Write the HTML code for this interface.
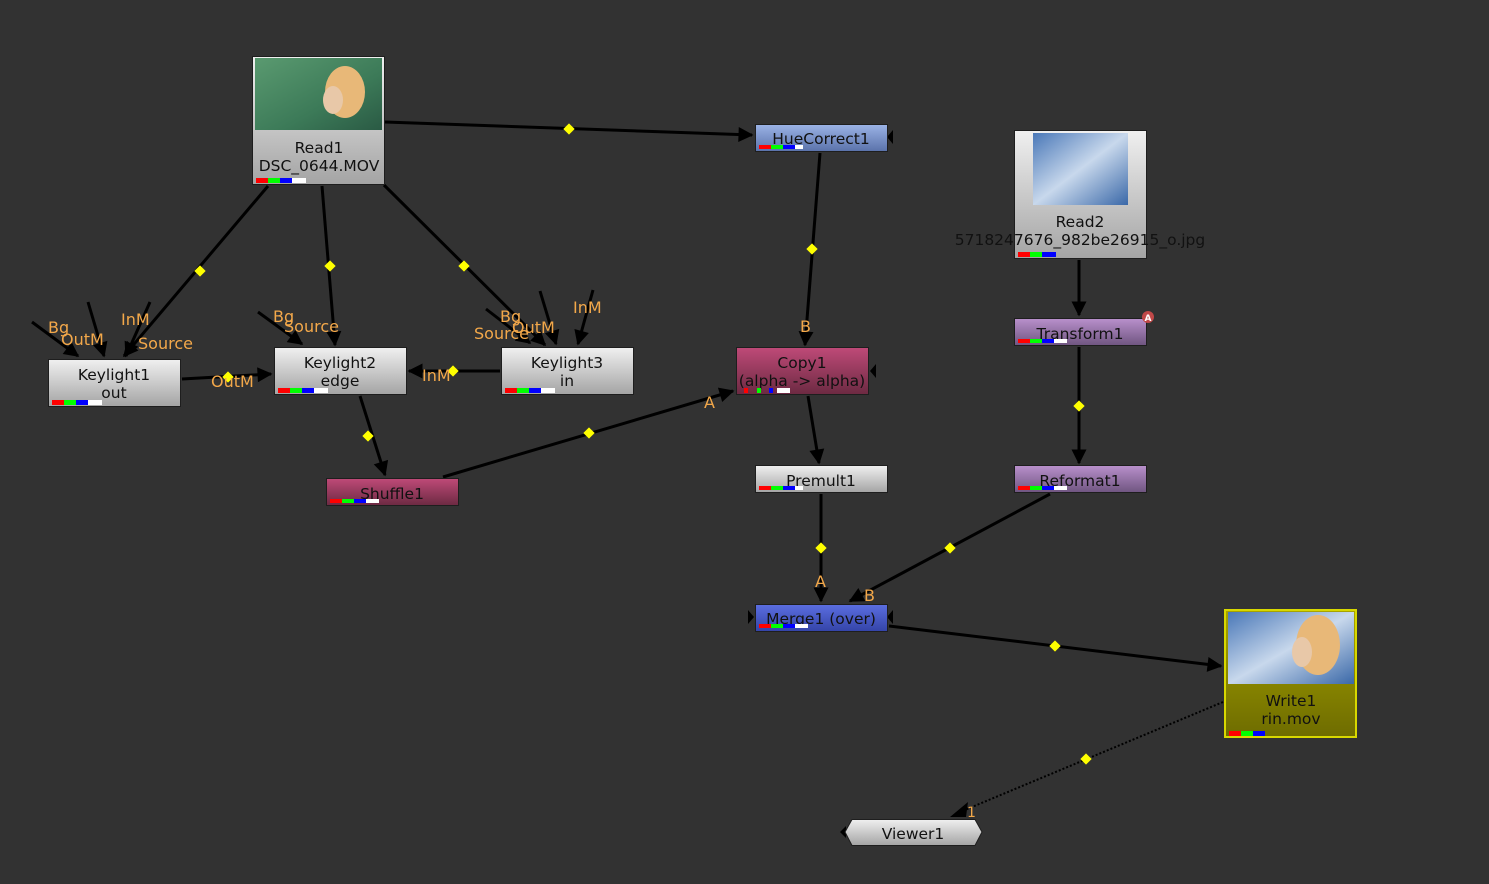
<!DOCTYPE html>
<html><head><meta charset="utf-8"><style>
html,body{margin:0;padding:0;background:#323232;}
svg{display:block;font-family:"DejaVu Sans","Liberation Sans",sans-serif;}
.t{font-size:15.5px;fill:#111;text-anchor:middle;}
.l{font-size:16px;fill:#f3a84a;}
.e{stroke:#000;stroke-width:3;fill:none;}
</style></head><body>
<svg width="1489" height="884" viewBox="0 0 1489 884" xmlns="http://www.w3.org/2000/svg">
<defs>
<marker id="A" viewBox="0 0 10 10" refX="9" refY="5" markerWidth="20" markerHeight="15" orient="auto" markerUnits="userSpaceOnUse"><path d="M0,0L10,5L0,10z" fill="#000"/></marker>
<linearGradient id="gray" x1="0" y1="0" x2="0" y2="1"><stop offset="0" stop-color="#f0f0f0"/><stop offset="1" stop-color="#a4a4a4"/></linearGradient>
<linearGradient id="blue" x1="0" y1="0" x2="0" y2="1"><stop offset="0" stop-color="#9bb3e6"/><stop offset="1" stop-color="#5a72aa"/></linearGradient>
<linearGradient id="mblue" x1="0" y1="0" x2="0" y2="1"><stop offset="0" stop-color="#5b6ee0"/><stop offset="1" stop-color="#3444a8"/></linearGradient>
<linearGradient id="pink" x1="0" y1="0" x2="0" y2="1"><stop offset="0" stop-color="#bf4a78"/><stop offset="1" stop-color="#6c2a42"/></linearGradient>
<linearGradient id="purp" x1="0" y1="0" x2="0" y2="1"><stop offset="0" stop-color="#b990cc"/><stop offset="1" stop-color="#6f5580"/></linearGradient>
<linearGradient id="yel" x1="0" y1="0" x2="0" y2="1"><stop offset="0" stop-color="#a8a400"/><stop offset="1" stop-color="#6e6c00"/></linearGradient>
<linearGradient id="green" x1="0" y1="0" x2="1" y2="1"><stop offset="0" stop-color="#5a9a70"/><stop offset="0.6" stop-color="#3c7a58"/><stop offset="1" stop-color="#2a5a44"/></linearGradient>
<linearGradient id="sky" x1="0" y1="0" x2="1" y2="1"><stop offset="0" stop-color="#4a78b8"/><stop offset="0.5" stop-color="#c8d8ec"/><stop offset="1" stop-color="#3a68a8"/></linearGradient>
</defs>

<g class="e">
<line x1="385" y1="122" x2="752" y2="135" marker-end="url(#A)"/>
<line x1="268" y1="186" x2="124" y2="356" marker-end="url(#A)"/>
<line x1="322" y1="186" x2="335" y2="345" marker-end="url(#A)"/>
<line x1="384" y1="185" x2="545" y2="345" marker-end="url(#A)"/>
<line x1="32" y1="322" x2="78" y2="356" marker-end="url(#A)"/>
<line x1="88" y1="302" x2="104" y2="356" marker-end="url(#A)"/>
<line x1="150" y1="302" x2="126" y2="356" marker-end="url(#A)"/>
<line x1="258" y1="312" x2="302" y2="344" marker-end="url(#A)"/>
<line x1="486" y1="309" x2="530" y2="343" marker-end="url(#A)"/>
<line x1="540" y1="291" x2="556" y2="344" marker-end="url(#A)"/>
<line x1="593" y1="290" x2="578" y2="344" marker-end="url(#A)"/>
<line x1="182" y1="379" x2="271" y2="374" marker-end="url(#A)"/>
<line x1="500" y1="371" x2="409" y2="371" marker-end="url(#A)"/>
<line x1="360" y1="396" x2="385" y2="475" marker-end="url(#A)"/>
<line x1="443" y1="477" x2="733" y2="391" marker-end="url(#A)"/>
<line x1="820" y1="153" x2="805" y2="345" marker-end="url(#A)"/>
<line x1="808" y1="396" x2="819" y2="463" marker-end="url(#A)"/>
<line x1="821" y1="494" x2="821" y2="601" marker-end="url(#A)"/>
<line x1="1079" y1="260" x2="1079" y2="315" marker-end="url(#A)"/>
<line x1="1079" y1="347" x2="1079" y2="463" marker-end="url(#A)"/>
<line x1="1050" y1="494" x2="850" y2="601" marker-end="url(#A)"/>
<line x1="889" y1="626" x2="1221" y2="666" marker-end="url(#A)"/>
<line x1="1223" y1="702" x2="960" y2="812" stroke-dasharray="2 2" stroke-width="2"/>
</g>
<path d="M950,817 L968,802 L966,817z" fill="#000"/>
<path d="M748,610 L754,617 L748,624z M893,610 L887,617 L893,624z M893,130 L887,137 L893,144z M876,364 L870,371 L876,378z M846,826 L840,832 L846,838z" fill="#000"/>

<g fill="#ffff00">
<g transform="translate(569,129) rotate(45)"><rect x="-4" y="-4" width="8" height="8"/></g>
<g transform="translate(200,271) rotate(45)"><rect x="-4" y="-4" width="8" height="8"/></g>
<g transform="translate(330,266) rotate(45)"><rect x="-4" y="-4" width="8" height="8"/></g>
<g transform="translate(464,266) rotate(45)"><rect x="-4" y="-4" width="8" height="8"/></g>
<g transform="translate(812,249) rotate(45)"><rect x="-4" y="-4" width="8" height="8"/></g>
<g transform="translate(1079,406) rotate(45)"><rect x="-4" y="-4" width="8" height="8"/></g>
<g transform="translate(228,377) rotate(45)"><rect x="-4" y="-4" width="8" height="8"/></g>
<g transform="translate(453,371) rotate(45)"><rect x="-4" y="-4" width="8" height="8"/></g>
<g transform="translate(368,436) rotate(45)"><rect x="-4" y="-4" width="8" height="8"/></g>
<g transform="translate(589,433) rotate(45)"><rect x="-4" y="-4" width="8" height="8"/></g>
<g transform="translate(821,548) rotate(45)"><rect x="-4" y="-4" width="8" height="8"/></g>
<g transform="translate(950,548) rotate(45)"><rect x="-4" y="-4" width="8" height="8"/></g>
<g transform="translate(1055,646) rotate(45)"><rect x="-4" y="-4" width="8" height="8"/></g>
<g transform="translate(1086,759) rotate(45)"><rect x="-4" y="-4" width="8" height="8"/></g>
</g>

<g class="l">
<text x="48" y="333">Bg</text><text x="61" y="345">OutM</text><text x="121" y="325">InM</text><text x="138" y="349">Source</text>
<text x="273" y="322">Bg</text><text x="284" y="332">Source</text>
<text x="500" y="322">Bg</text><text x="512" y="333">OutM</text><text x="474" y="339">Source</text><text x="573" y="313">InM</text>
<text x="211" y="387">OutM</text><text x="422" y="381">InM</text>
<text x="704" y="408">A</text><text x="800" y="332">B</text>
<text x="815" y="587">A</text><text x="864" y="601">B</text>
<text x="967" y="817" font-size="14">1</text>
</g>

<rect x="252.5" y="56.5" width="132" height="128" fill="url(#gray)" stroke="#1e1e1e"/>
<rect x="255" y="58" width="127" height="72" fill="url(#green)"/>
<ellipse cx="345" cy="92" rx="20" ry="26" fill="#e8b878"/>
<ellipse cx="333" cy="100" rx="10" ry="14" fill="#e8c8a8"/>
<text class="t" x="319" y="153">Read1</text><text class="t" x="319" y="171">DSC_0644.MOV</text>
<rect x="256" y="178" width="12" height="5" fill="#f00"/><rect x="268" y="178" width="12" height="5" fill="#0f0"/><rect x="280" y="178" width="12" height="5" fill="#00f"/><rect x="292" y="178" width="14" height="5" fill="#fff"/>

<rect x="755.5" y="124.5" width="132" height="27" fill="url(#blue)" stroke="#1e1e1e"/>
<text class="t" x="821" y="144">HueCorrect1</text>
<rect x="759" y="145" width="12" height="4" fill="#f00"/><rect x="771" y="145" width="12" height="4" fill="#0f0"/><rect x="783" y="145" width="12" height="4" fill="#00f"/><rect x="795" y="145" width="8" height="4" fill="#fff"/>

<rect x="1014.5" y="130.5" width="132" height="128" fill="url(#gray)" stroke="#1e1e1e"/>
<rect x="1033" y="133" width="95" height="72" fill="url(#sky)"/>
<text class="t" x="1080" y="227">Read2</text><text class="t" x="1080" y="245">5718247676_982be26915_o.jpg</text>
<rect x="1018" y="252" width="12" height="5" fill="#f00"/><rect x="1030" y="252" width="12" height="5" fill="#0f0"/><rect x="1042" y="252" width="14" height="5" fill="#00f"/>

<rect x="48.5" y="359.5" width="132" height="47" fill="url(#gray)" stroke="#1e1e1e"/>
<text class="t" x="114" y="380">Keylight1</text><text class="t" x="114" y="398">out</text>
<rect x="52" y="400" width="12" height="5" fill="#f00"/><rect x="64" y="400" width="12" height="5" fill="#0f0"/><rect x="76" y="400" width="12" height="5" fill="#00f"/><rect x="88" y="400" width="14" height="5" fill="#fff"/>

<rect x="274.5" y="347.5" width="132" height="47" fill="url(#gray)" stroke="#1e1e1e"/>
<text class="t" x="340" y="368">Keylight2</text><text class="t" x="340" y="386">edge</text>
<rect x="278" y="388" width="12" height="5" fill="#f00"/><rect x="290" y="388" width="12" height="5" fill="#0f0"/><rect x="302" y="388" width="12" height="5" fill="#00f"/><rect x="314" y="388" width="14" height="5" fill="#fff"/>

<rect x="501.5" y="347.5" width="132" height="47" fill="url(#gray)" stroke="#1e1e1e"/>
<text class="t" x="567" y="368">Keylight3</text><text class="t" x="567" y="386">in</text>
<rect x="505" y="388" width="12" height="5" fill="#f00"/><rect x="517" y="388" width="12" height="5" fill="#0f0"/><rect x="529" y="388" width="12" height="5" fill="#00f"/><rect x="541" y="388" width="14" height="5" fill="#fff"/>

<rect x="736.5" y="347.5" width="132" height="47" fill="url(#pink)" stroke="#1e1e1e"/>
<text class="t" x="802" y="368">Copy1</text><text class="t" x="802" y="386">(alpha -&gt; alpha)</text>
<rect x="744" y="388" width="4" height="5" fill="#f00"/><rect x="757" y="388" width="4" height="5" fill="#0f0"/><rect x="769" y="388" width="4" height="5" fill="#00f"/><rect x="777" y="388" width="13" height="5" fill="#fff"/>

<rect x="1014.5" y="318.5" width="132" height="27" fill="url(#purp)" stroke="#1e1e1e"/>
<text class="t" x="1080" y="339">Transform1</text>
<rect x="1018" y="339" width="12" height="4" fill="#f00"/><rect x="1030" y="339" width="12" height="4" fill="#0f0"/><rect x="1042" y="339" width="12" height="4" fill="#00f"/><rect x="1054" y="339" width="13" height="4" fill="#fff"/>
<circle cx="1148" cy="317" r="6" fill="#c04848"/><text x="1148" y="321" font-size="9" font-weight="bold" fill="#fff" text-anchor="middle">A</text>

<rect x="326.5" y="478.5" width="132" height="27" fill="url(#pink)" stroke="#1e1e1e"/>
<text class="t" x="392" y="499">Shuffle1</text>
<rect x="330" y="499" width="12" height="4" fill="#f00"/><rect x="342" y="499" width="12" height="4" fill="#0f0"/><rect x="354" y="499" width="12" height="4" fill="#00f"/><rect x="366" y="499" width="13" height="4" fill="#fff"/>

<rect x="755.5" y="465.5" width="132" height="27" fill="url(#gray)" stroke="#1e1e1e"/>
<text class="t" x="821" y="486">Premult1</text>
<rect x="759" y="486" width="12" height="4" fill="#f00"/><rect x="771" y="486" width="12" height="4" fill="#0f0"/><rect x="783" y="486" width="12" height="4" fill="#00f"/><rect x="795" y="486" width="8" height="4" fill="#fff"/>

<rect x="1014.5" y="465.5" width="132" height="27" fill="url(#purp)" stroke="#1e1e1e"/>
<text class="t" x="1080" y="486">Reformat1</text>
<rect x="1018" y="486" width="12" height="4" fill="#f00"/><rect x="1030" y="486" width="12" height="4" fill="#0f0"/><rect x="1042" y="486" width="12" height="4" fill="#00f"/><rect x="1054" y="486" width="13" height="4" fill="#fff"/>

<rect x="755.5" y="604.5" width="132" height="27" fill="url(#mblue)" stroke="#1e1e1e"/>
<text class="t" x="821" y="624">Merge1 (over)</text>
<rect x="759" y="624" width="12" height="4" fill="#f00"/><rect x="771" y="624" width="12" height="4" fill="#0f0"/><rect x="783" y="624" width="12" height="4" fill="#00f"/><rect x="795" y="624" width="13" height="4" fill="#fff"/>

<rect x="1225" y="610" width="131" height="127" fill="url(#yel)" stroke="#d8d800" stroke-width="2"/>
<rect x="1228" y="612" width="126" height="72" fill="url(#sky)"/>
<ellipse cx="1318" cy="645" rx="22" ry="30" fill="#e8b878"/>
<ellipse cx="1302" cy="652" rx="10" ry="15" fill="#e8c8a8"/>
<text class="t" x="1291" y="706">Write1</text><text class="t" x="1291" y="724">rin.mov</text>
<rect x="1229" y="731" width="12" height="5" fill="#f00"/><rect x="1241" y="731" width="12" height="5" fill="#0f0"/><rect x="1253" y="731" width="12" height="5" fill="#00f"/>

<path d="M852,819.5 L975,819.5 L982,832 L975,845.5 L852,845.5 L845,832z" fill="url(#gray)" stroke="#1e1e1e"/>
<text class="t" x="913" y="839">Viewer1</text>
</svg>
</body></html>
